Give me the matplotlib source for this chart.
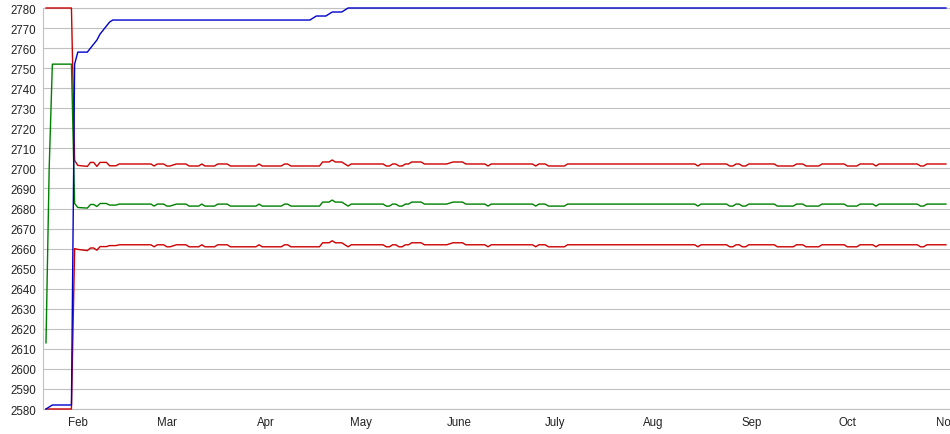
import numpy as np
import pandas as pd
import matplotlib
matplotlib.use('Agg')
import matplotlib.pyplot as plt

plt.rcParams['font.family'] = ['Liberation Sans', 'DejaVu Sans']

YEAR = '2023-'

# bands (sparse points, same dates for all three)
band_dates = [
    '01-22', '01-23', '01-24', '01-30', '01-31', '02-01', '02-04', '02-05', '02-06', '02-07', '02-08', '02-10', '02-11', '02-13',
    '02-14', '02-24', '02-25', '02-26', '02-28', '03-01', '03-02', '03-04', '03-07', '03-08', '03-11', '03-12',
    '03-13', '03-16', '03-17', '03-20', '03-21', '03-29', '03-30', '03-31', '04-06', '04-07', '04-08', '04-09', '04-18',
    '04-19', '04-21', '04-22', '04-23', '04-25', '04-26', '04-27', '04-28', '05-08', '05-09', '05-10', '05-11', '05-12',
    '05-13', '05-14', '05-15', '05-16', '05-17', '05-20', '05-21', '05-28', '05-30', '06-02', '06-03', '06-09', '06-10',
    '06-11', '06-24', '06-25', '06-26', '06-28', '06-29', '07-04', '07-05', '08-14', '08-15', '08-16', '08-24', '08-25', '08-26',
    '08-27', '08-28', '08-29', '08-30', '08-31', '09-08', '09-09', '09-14', '09-15', '09-17', '09-18', '09-22', '09-23', '09-30',
    '10-01', '10-04', '10-05', '10-09', '10-10', '10-11', '10-23', '10-24', '10-25', '10-26', '11-01']

mid_band = [
    2613, 2700, 2752, 2752, 2682.5, 2680.5, 2680.2, 2682, 2682, 2681, 2682.5, 2682.5, 2681.7, 2681.7,
    2682.2, 2682.2, 2681.2, 2682.2, 2682.2, 2681.2, 2681.2, 2682.2, 2682.2, 2681.2, 2681.2, 2682.2,
    2681.2, 2681.2, 2682.2, 2682.2, 2681.2, 2681.2, 2682.2, 2681.2, 2681.2, 2682.2, 2682.2, 2681.2, 2681.2,
    2683.2, 2683.2, 2684.2, 2683.2, 2683.2, 2682.2, 2681.2, 2682.2, 2682.2, 2681.2, 2681.2, 2682.2, 2682.2,
    2681.2, 2681.2, 2682.2, 2682.2, 2683.2, 2683.2, 2682.2, 2682.2, 2683.2, 2683.2, 2682.2, 2682.2, 2681.2,
    2682.2, 2682.2, 2681.2, 2682.2, 2682.2, 2681.2, 2681.2, 2682.2, 2682.2, 2681.2, 2682.2, 2682.2, 2681.2, 2681.2,
    2682.2, 2682.2, 2681.2, 2681.2, 2682.2, 2682.2, 2681.2, 2681.2, 2682.2, 2682.2, 2681.2, 2681.2, 2682.2, 2682.2,
    2681.2, 2681.2, 2682.2, 2682.2, 2681.2, 2682.2, 2682.2, 2681.2, 2681.2, 2682.2, 2682.2]

upper_band = [
    2780, 2780, 2780, 2780, 2704, 2701.5, 2701, 2703, 2703, 2701, 2703, 2703, 2701.3, 2701.3,
    2702.2, 2702.2, 2701.2, 2702.2, 2702.2, 2701.2, 2701.2, 2702.2, 2702.2, 2701.2, 2701.2, 2702.2,
    2701.2, 2701.2, 2702.2, 2702.2, 2701.2, 2701.2, 2702.2, 2701.2, 2701.2, 2702.2, 2702.2, 2701.2, 2701.2,
    2703.2, 2703.2, 2704.2, 2703.2, 2703.2, 2702.2, 2701.2, 2702.2, 2702.2, 2701.2, 2701.2, 2702.2, 2702.2,
    2701.2, 2701.2, 2702.2, 2702.2, 2703.2, 2703.2, 2702.2, 2702.2, 2703.2, 2703.2, 2702.2, 2702.2, 2701.2,
    2702.2, 2702.2, 2701.2, 2702.2, 2702.2, 2701.2, 2701.2, 2702.2, 2702.2, 2701.2, 2702.2, 2702.2, 2701.2, 2701.2,
    2702.2, 2702.2, 2701.2, 2701.2, 2702.2, 2702.2, 2701.2, 2701.2, 2702.2, 2702.2, 2701.2, 2701.2, 2702.2, 2702.2,
    2701.2, 2701.2, 2702.2, 2702.2, 2701.2, 2702.2, 2702.2, 2701.2, 2701.2, 2702.2, 2702.2]

lower_band = [
    2580, 2580, 2580, 2580, 2660, 2659.6, 2659, 2660.3, 2660.3, 2659.2, 2661, 2661, 2661.5, 2661.5,
    2661.9, 2661.9, 2660.9, 2661.9, 2661.9, 2660.9, 2660.9, 2661.9, 2661.9, 2660.9, 2660.9, 2661.9,
    2660.9, 2660.9, 2661.9, 2661.9, 2660.9, 2660.9, 2661.9, 2660.9, 2660.9, 2661.9, 2661.9, 2660.9, 2660.9,
    2662.9, 2662.9, 2663.9, 2662.9, 2662.9, 2661.9, 2660.9, 2661.9, 2661.9, 2660.9, 2660.9, 2661.9, 2661.9,
    2660.9, 2660.9, 2661.9, 2661.9, 2662.9, 2662.9, 2661.9, 2661.9, 2662.9, 2662.9, 2661.9, 2661.9, 2660.9,
    2661.9, 2661.9, 2660.9, 2661.9, 2661.9, 2660.9, 2660.9, 2661.9, 2661.9, 2660.9, 2661.9, 2661.9, 2660.9, 2660.9,
    2661.9, 2661.9, 2660.9, 2660.9, 2661.9, 2661.9, 2660.9, 2660.9, 2661.9, 2661.9, 2660.9, 2660.9, 2661.9, 2661.9,
    2660.9, 2660.9, 2661.9, 2661.9, 2660.9, 2661.9, 2661.9, 2660.9, 2660.9, 2661.9, 2661.9]

# running high (blue)
blue_dates = ['01-22', '01-24', '01-30', '01-31', '02-01', '02-04', '02-05', '02-06', '02-07', '02-08', '02-09',
              '02-10', '02-11', '02-12', '04-15', '04-16', '04-17', '04-20', '04-21', '04-22', '04-25', '04-26',
              '04-27', '11-01']
blue_vals = [2580, 2582, 2582, 2752, 2758, 2758, 2760, 2762, 2764, 2767, 2769,
             2771, 2773, 2774, 2774, 2775, 2776, 2776, 2777, 2778, 2778, 2779,
             2780, 2780]

month_ticks = ['02-01', '03-01', '04-01', '05-01', '06-01', '07-01', '08-01', '09-01', '10-01', '11-01']
month_labels = ['Feb', 'Mar', 'Apr', 'May', 'June', 'July', 'Aug', 'Sep', 'Oct', 'Nov']


def to_dt(lst):
    return pd.to_datetime([YEAR + s for s in lst])


bd = to_dt(band_dates)
start = bd[0]

fig = plt.figure(figsize=(9.5, 4.35), dpi=100)
px_day = 3.18
ax = fig.add_axes([43 / 950, 25 / 435, (284.5 * px_day + 3) / 950, 401 / 435])

ax.plot(bd, upper_band, color='#cc0000', lw=1.0, clip_on=False, zorder=3)
ax.plot(bd, mid_band, color='#008000', lw=1.0, clip_on=False, zorder=3)
ax.plot(bd, lower_band, color='#cc0000', lw=1.0, clip_on=False, zorder=3)
ax.plot(to_dt(blue_dates), blue_vals, color='#0000cc', lw=1.0, clip_on=False, zorder=4)

ax.set_xlim(start - pd.Timedelta(days=3 / px_day), start + pd.Timedelta(days=284.5))
ax.set_ylim(2580, 2780)
ax.set_yticks(np.arange(2580, 2781, 10))
ax.set_xticks(to_dt(month_ticks))
ax.set_xticklabels(month_labels)

ax.grid(axis='y', color='#c0c0c0', lw=0.8)
ax.grid(axis='x', visible=False)
ax.set_axisbelow(True)
for s in ['left', 'top', 'bottom']:
    ax.spines[s].set_color('#c0c0c0')
    ax.spines[s].set_linewidth(0.8)
ax.spines['right'].set_visible(False)
ax.tick_params(length=0, labelsize=8.3, pad=5, colors='#222222')

fig.savefig('out.png', dpi=100)
